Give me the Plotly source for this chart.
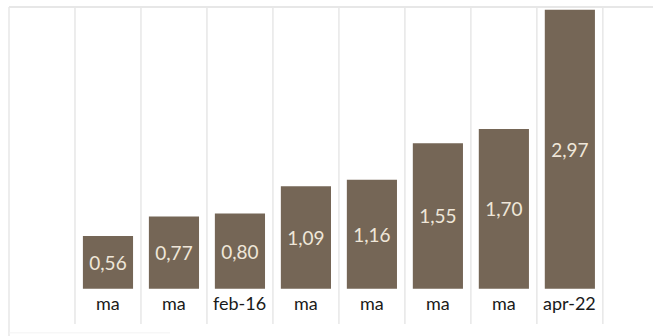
import plotly.graph_objects as go

# Series: one value per period, an empty leading slot on the category axis
labels = ["ma", "ma", "feb-16", "ma", "ma", "ma", "ma", "apr-22"]
values = [0.56, 0.77, 0.80, 1.09, 1.16, 1.55, 1.70, 2.97]
positions = list(range(1, len(values) + 1))

BAR = "#756656"
GRID = "#e7e7e7"
FONT = "Lato"

y_top = 3.0
y_bottom = -0.376
label_y = -0.155

fig = go.Figure(
    go.Bar(
        x=positions,
        y=values,
        width=0.76,
        marker=dict(color=BAR, line=dict(width=0)),
        texttemplate="%{y:.2f}",
        textposition="inside",
        insidetextanchor="middle",
        textangle=0,
        textfont=dict(family=FONT, size=19, color="#efe6d9"),
        cliponaxis=False,
        hoverinfo="skip",
    )
)

# Category names sit just under the baseline, inside the framed area
for p, lab in zip(positions, labels):
    fig.add_annotation(
        x=p, y=label_y, text=lab, showarrow=False,
        font=dict(family=FONT, size=18, color="#1a1a1a"),
        xanchor="center", yanchor="middle",
    )

# Column separators running the full height of the frame
for k in range(len(positions) + 1):
    fig.add_shape(
        type="line", xref="x", yref="paper",
        x0=k + 0.5, x1=k + 0.5, y0=0, y1=1,
        line=dict(color=GRID, width=1.5), layer="below",
    )

# Frame: top rule and left edge
fig.add_shape(type="line", xref="paper", yref="paper", x0=0, x1=1, y0=1, y1=1,
              line=dict(color=GRID, width=2), layer="below")
fig.add_shape(type="line", xref="paper", yref="paper", x0=0, x1=0, y0=-0.04, y1=1,
              line=dict(color=GRID, width=1.5), layer="below")
fig.add_shape(type="line", xref="paper", yref="paper", x0=0, x1=0.25, y0=-0.028, y1=-0.028,
              line=dict(color="#f3f3f3", width=1), layer="below")

fig.update_layout(
    width=653, height=336,
    margin=dict(l=9, r=0, t=7, b=12),
    paper_bgcolor="white", plot_bgcolor="white",
    separators=",.",
    showlegend=False,
    uniformtext=dict(minsize=19, mode="show"),
    xaxis=dict(range=[-0.5, 9.26], showgrid=False, zeroline=False,
               showticklabels=False, ticks="", showline=False, fixedrange=True),
    yaxis=dict(range=[y_bottom, y_top], showgrid=False, zeroline=False,
               showticklabels=False, ticks="", showline=False, fixedrange=True),
)

fig.write_html("out.html", config={"displayModeBar": False})
